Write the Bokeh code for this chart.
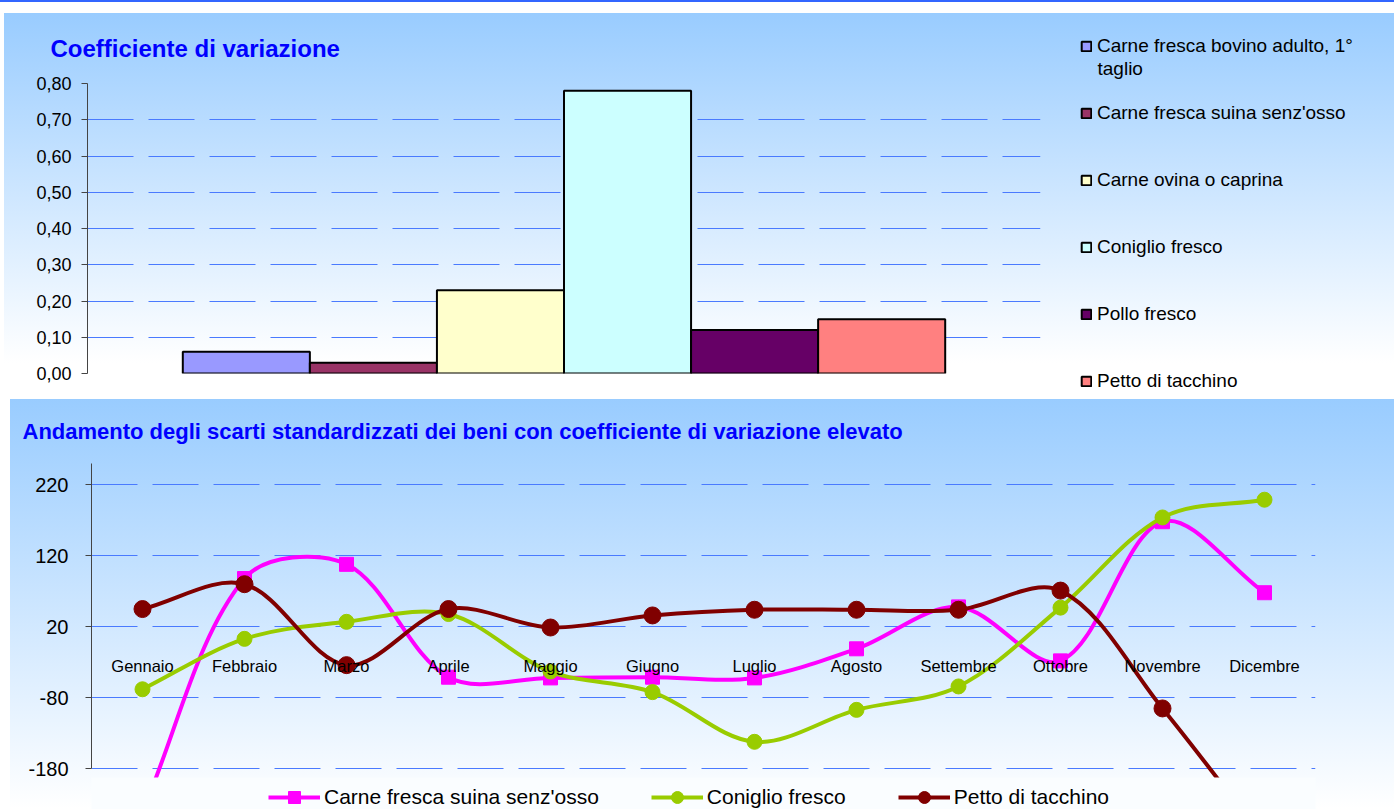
import math
from bokeh.plotting import figure
from bokeh.models import (Range1d, FixedTicker, Legend, LegendItem, Spacer, ColumnDataSource, Label)
from bokeh.embed import file_html
from bokeh.resources import INLINE
from bokeh.core.properties import value

FONT = "Liberation Sans"

# ---------------- data: top chart ----------------
products = ["Carne fresca bovino adulto, 1° taglio", "Carne fresca suina senz'osso",
            "Carne ovina o caprina", "Coniglio fresco", "Pollo fresco", "Petto di tacchino"]
legend_labels_top = ["Carne fresca bovino adulto, 1°", "Carne fresca suina senz'osso",
                     "Carne ovina o caprina", "Coniglio fresco", "Pollo fresco", "Petto di tacchino"]
legend_wrap_top = "taglio"
coeff_var = [0.06, 0.03, 0.23, 0.78, 0.12, 0.15]
bar_colors = ["#9999ff", "#993366", "#ffffcc", "#ccffff", "#660066", "#ff8080"]
top_ticks = [0.0, 0.1, 0.2, 0.3, 0.4, 0.5, 0.6, 0.7, 0.8]
top_tick_labels = ["0,00", "0,10", "0,20", "0,30", "0,40", "0,50", "0,60", "0,70", "0,80"]

# ---------------- data: bottom chart ----------------
months = ["Gennaio", "Febbraio", "Marzo", "Aprile", "Maggio", "Giugno",
          "Luglio", "Agosto", "Settembre", "Ottobre", "Novembre", "Dicembre"]
suina = [-240, 88, 108, -51, -52, -51, -52, -11, 48, -28, 168, 68]
coniglio = [-68, 3, 27, 38, -43, -72, -142, -97, -64, 47, 174, 199]
tacchino = [45, 80, -34, 45, 19, 36, 44, 44, 44, 71, -95, -280]
bottom_ticks = [-180, -80, 20, 120, 220]
bottom_tick_labels = ["-180", "-80", "20", "120", "220"]
series_names = ["Carne fresca suina senz'osso", "Coniglio fresco", "Petto di tacchino"]
series_colors = ["#ff00ff", "#99cc00", "#800000"]
series_markers = ["square", "circle", "circle"]
series_sizes = [14, 15, 17]

GRID_COLOR = "#4a7aff"
AXIS_COLOR = "#444444"

# ================= TOP FIGURE =================
t_fw, t_fh = 953, 290
t_left, t_right, t_top, t_bottom = 83, 354, 70, 17
t_xr = (-1.25, 6.25)
t_yr = (0.0, 0.8)
p1 = figure(frame_width=t_fw, frame_height=t_fh, x_range=Range1d(*t_xr), y_range=Range1d(*t_yr),
            x_axis_location=None, output_backend="svg", toolbar_location=None,
            min_border_left=t_left, min_border_right=t_right, min_border_top=t_top,
            min_border_bottom=t_bottom, background_fill_alpha=0, border_fill_alpha=0,
            outline_line_color=None,
            styles={"background": "linear-gradient(180deg, #99ccff 0px, #ffffff 350px)",
                    "margin-top": "11px", "margin-left": "4px"},
            title="Coefficiente di variazione")
p1.title.text_font = FONT
p1.title.text_font_size = "24px"
p1.title.text_color = "#0000ff"
p1.title.text_font_style = "bold"
p1.title.align = "left"
p1.title.vertical_align = "top"
p1.title.offset = -37
p1.title.standoff = 40

src = ColumnDataSource(dict(idx=list(range(len(products))), val=coeff_var,
                            color=bar_colors, name=products))
bars = p1.vbar(x="idx", top="val", width=1.0, source=src, fill_color="color",
               line_color="black", line_width=2)

p1.xgrid.visible = False
p1.ygrid.ticker = FixedTicker(ticks=top_ticks)
p1.ygrid.grid_line_color = GRID_COLOR
p1.ygrid.grid_line_dash = "46 15"
p1.ygrid.grid_line_width = 1
ax = p1.yaxis[0]
ax.ticker = FixedTicker(ticks=top_ticks)
ax.major_label_overrides = dict(zip(top_ticks, top_tick_labels))
ax.axis_line_color = AXIS_COLOR
ax.major_tick_line_color = AXIS_COLOR
ax.major_tick_in = 0
ax.major_tick_out = 6
ax.minor_tick_line_color = None
ax.major_label_standoff = 10
ax.major_label_text_font = FONT
ax.major_label_text_font_size = "18px"
ax.major_label_text_color = "black"

leg1 = Legend(items=[LegendItem(label=value(lbl), renderers=[bars], index=i)
                     for i, lbl in enumerate(legend_labels_top)],
              location=(40, -19), orientation="vertical",
              glyph_width=12, glyph_height=12, label_standoff=5,
              label_text_font=FONT, label_text_font_size="19px", label_text_color="black",
              label_height=23, spacing=44, padding=0, margin=0,
              border_line_alpha=0, background_fill_alpha=0)
p1.add_layout(leg1, "right")

# second line of the first legend entry (wrapped text), placed through the plot scales
px_x = (t_xr[1] - t_xr[0]) / t_fw          # data units per pixel (x)
px_y = (t_yr[1] - t_yr[0]) / t_fh          # data units per pixel (y)
wrap_x = t_xr[0] + (1097 - (4 + t_left)) * px_x
wrap_y = t_yr[1] + ((13 + t_top) - 68) * px_y
p1.add_layout(Label(x=wrap_x, y=wrap_y, x_units="data", y_units="data",
                    text=legend_wrap_top, text_font=FONT, text_font_size="19px",
                    text_color="black", text_baseline="middle", text_align="left"), "right")

# ================= BOTTOM FIGURE =================
b_fw, b_fh = 1224, 346          # frame runs down to the legend row
plot_area_h = 314               # visible plot area (lines are cut below it)
b_left, b_right, b_top, b_bottom = 81, 79, 64, 0
y_top = 250
px_per_unit = 0.71
y_bot = y_top - b_fh / px_per_unit
y_clip = y_top - plot_area_h / px_per_unit
p2 = figure(frame_width=b_fw, frame_height=b_fh, x_range=Range1d(0.5, len(months) + 0.5),
            y_range=Range1d(y_bot, y_top),
            x_axis_location=None, output_backend="svg", toolbar_location=None,
            min_border_left=b_left, min_border_right=b_right, min_border_top=b_top,
            min_border_bottom=b_bottom, background_fill_alpha=0, border_fill_alpha=0,
            outline_line_color=None,
            styles={"background": "linear-gradient(180deg, #99ccff 0px, #ffffff 410px)",
                    "margin-top": "9px", "margin-left": "10px"},
            title="Andamento degli scarti standardizzati dei beni con coefficiente di variazione elevato")
p2.title.text_font = FONT
p2.title.text_font_size = "22px"
p2.title.text_color = "#0000ff"
p2.title.text_font_style = "bold"
p2.title.align = "left"
p2.title.vertical_align = "top"
p2.title.offset = -69
p2.title.standoff = 36

p2.xgrid.visible = False
p2.ygrid.ticker = FixedTicker(ticks=bottom_ticks)
p2.ygrid.grid_line_color = GRID_COLOR
p2.ygrid.grid_line_dash = "46 15"
ay = p2.yaxis[0]
ay.ticker = FixedTicker(ticks=bottom_ticks)
ay.major_label_overrides = dict(zip(bottom_ticks, bottom_tick_labels))
ay.bounds = (bottom_ticks[0], y_top)
ay.axis_line_color = AXIS_COLOR
ay.major_tick_line_color = AXIS_COLOR
ay.major_tick_in = 0
ay.major_tick_out = 6
ay.minor_tick_line_color = None
ay.major_label_standoff = 17
ay.major_label_text_font = FONT
ay.major_label_text_font_size = "20px"
ay.major_label_text_color = "black"

xs = list(range(1, len(months) + 1))
kx = b_fw / len(months)      # px per category
ky = px_per_unit             # px per value unit


def smooth_segments(xv, yv):
    """Bezier control points (Excel-like smoothing, distance weighted tangents)."""
    P = [(x * kx, y * ky) for x, y in zip(xv, yv)]
    n = len(P)
    out = {k: [] for k in ("x0", "y0", "x1", "y1", "cx0", "cy0", "cx1", "cy1")}
    d = lambda a, b: math.hypot(a[0] - b[0], a[1] - b[1])
    for i in range(n - 1):
        p0 = P[i - 1] if i > 0 else P[i]
        p1_, p2_ = P[i], P[i + 1]
        p3 = P[i + 2] if i + 2 < n else P[i + 1]
        d01, d12, d23 = d(p0, p1_), d(p1_, p2_), d(p2_, p3)
        f1 = d12 / (d01 + d12) / 3.0
        f2 = d12 / (d12 + d23) / 3.0
        c1 = (p1_[0] + (p2_[0] - p0[0]) * f1, p1_[1] + (p2_[1] - p0[1]) * f1)
        c2 = (p2_[0] - (p3[0] - p1_[0]) * f2, p2_[1] - (p3[1] - p1_[1]) * f2)
        out["x0"].append(p1_[0] / kx); out["y0"].append(p1_[1] / ky)
        out["x1"].append(p2_[0] / kx); out["y1"].append(p2_[1] / ky)
        out["cx0"].append(c1[0] / kx); out["cy0"].append(c1[1] / ky)
        out["cx1"].append(c2[0] / kx); out["cy1"].append(c2[1] / ky)
    return out


legend_items = []
for name, vals, col, mk, sz in zip(series_names, [suina, coniglio, tacchino],
                                   series_colors, series_markers, series_sizes):
    seg = smooth_segments(xs, vals)
    rb = p2.bezier(source=ColumnDataSource(seg), x0="x0", y0="y0", x1="x1", y1="y1",
                   cx0="cx0", cy0="cy0", cx1="cx1", cy1="cy1", line_color=col, line_width=4)
    rs = p2.scatter(x=xs, y=vals, marker=mk, size=sz, fill_color=col, line_color=col)
    legend_items.append(LegendItem(label=value(name), renderers=[rb, rs]))

# the plot area ends at y_clip: cover what lies below it with the page background
p2.quad(left=[0.5 - 1], right=[len(months) + 1.5], bottom=[y_bot - 50], top=[y_clip],
        fill_color="#fafdff", line_color=None)

axis_cross = [0] * len(months)
p2.text(x=xs, y=axis_cross, text=months, text_align="center", text_baseline="middle",
        y_offset=25, text_font=value(FONT), text_font_size="16.5px", text_color="black")

leg2 = Legend(items=legend_items, location=(177, -3), orientation="horizontal",
              glyph_width=52, glyph_height=30, label_height=30, label_standoff=4,
              label_text_font=FONT, label_text_font_size="21px", label_text_color="black",
              spacing=52, padding=0, margin=0, border_line_alpha=0, background_fill_alpha=0)
p2.add_layout(leg2, "center")

top_line = Spacer(width=1394, height=2, styles={"background-color": "#3366ff"})

open("out.html", "w").write(file_html([top_line, p1, p2], INLINE, title="chart"))
